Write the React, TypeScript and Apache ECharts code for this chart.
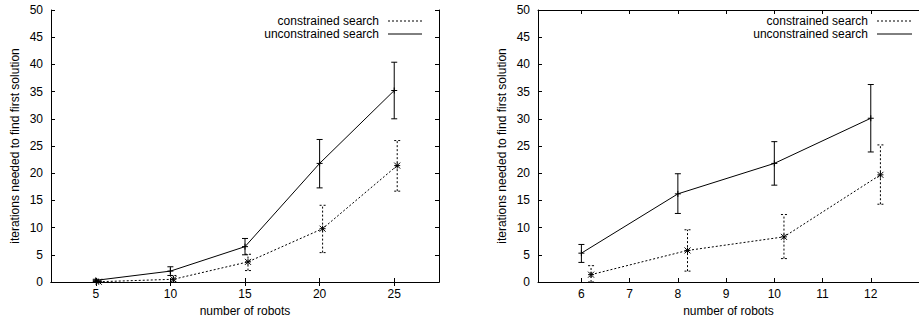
import React, { useEffect, useRef } from "react";
import * as echarts from "echarts";

// ---- data ----
const leftUncX = [5, 10, 15, 20, 25];
const leftUncMean = [0.3, 2.0, 6.5, 21.8, 35.2];
const leftUncLow = [0.1, 1.2, 5.0, 17.3, 30.0];
const leftUncHigh = [0.5, 2.8, 8.0, 26.2, 40.4];

const leftConX = [5.2, 10.2, 15.2, 20.2, 25.2];
const leftConMean = [0.05, 0.5, 3.7, 9.8, 21.4];
const leftConLow = [0, 0, 2.1, 5.4, 16.7];
const leftConHigh = [0.2, 1.2, 5.1, 14.1, 26.0];

const rightUncX = [6, 8, 10, 12];
const rightUncMean = [5.3, 16.2, 21.8, 30.1];
const rightUncLow = [3.6, 12.6, 17.8, 23.9];
const rightUncHigh = [6.9, 19.9, 25.8, 36.3];

const rightConX = [6.2, 8.2, 10.2, 12.2];
const rightConMean = [1.35, 5.8, 8.3, 19.7];
const rightConLow = [0, 2.0, 4.3, 14.3];
const rightConHigh = [3.0, 9.6, 12.4, 25.2];

const leftXTicks = [5, 10, 15, 20, 25];
const rightXTicks = [6, 7, 8, 9, 10, 11, 12];

const yTitle = "iterations needed to find first solution";
const xTitle = "number of robots";
const conName = "constrained search";
const uncName = "unconstrained search";

const FONT = "Liberation Sans, Arial, Helvetica, sans-serif";
const FS = 12;
const DASH = [2, 2];

function zip(xs: number[], ...cols: number[][]) {
  return xs.map((x, i) => [x, ...cols.map((c) => c[i])]);
}

function errRender(dashed: boolean, marker: "plus" | "star") {
  return (params: any, api: any) => {
    const x = api.value(0);
    const m = api.value(1);
    const lo = api.value(2);
    const hi = api.value(3);
    const pm = api.coord([x, m]);
    const pl = api.coord([x, lo]);
    const ph = api.coord([x, hi]);
    const style = { stroke: "#000", lineWidth: 1, lineDash: dashed ? DASH : null, fill: null };
    const mstyle = { stroke: "#000", lineWidth: 1, fill: null };
    const c = 3;
    const s = 3;
    const children: any[] = [
      { type: "line", shape: { x1: pl[0], y1: pl[1], x2: ph[0], y2: ph[1] }, style },
      { type: "line", shape: { x1: pl[0] - c, y1: pl[1], x2: pl[0] + c, y2: pl[1] }, style },
      { type: "line", shape: { x1: ph[0] - c, y1: ph[1], x2: ph[0] + c, y2: ph[1] }, style },
      { type: "line", shape: { x1: pm[0] - s, y1: pm[1], x2: pm[0] + s, y2: pm[1] }, style: mstyle },
      { type: "line", shape: { x1: pm[0], y1: pm[1] - s, x2: pm[0], y2: pm[1] + s }, style: mstyle },
    ];
    if (marker === "star") {
      children.push(
        { type: "line", shape: { x1: pm[0] - s, y1: pm[1] - s, x2: pm[0] + s, y2: pm[1] + s }, style: mstyle },
        { type: "line", shape: { x1: pm[0] - s, y1: pm[1] + s, x2: pm[0] + s, y2: pm[1] - s }, style: mstyle }
      );
    }
    return { type: "group", children };
  };
}

export default function App() {
  const ref = useRef<HTMLDivElement>(null);
  useEffect(() => {
    if (!ref.current) return;
    const chart = echarts.init(ref.current, null, { renderer: "svg" });

    const axisLine = { show: true, lineStyle: { color: "#000", width: 1 } };
    const tick = { show: true, inside: true, length: 4, lineStyle: { color: "#000" } };
    const label = { color: "#000", fontFamily: FONT, fontSize: FS };

    const xAx = (grid: number, min: number, max: number, ticks: number[]) => [
      {
        type: "value", gridIndex: grid, position: "bottom", min, max,
        axisLine, axisTick: { ...tick, customValues: ticks },
        axisLabel: { ...label, margin: 6, customValues: ticks },
        splitLine: { show: false },
        name: xTitle, nameLocation: "middle", nameGap: 23,
        nameTextStyle: { color: "#000", fontFamily: FONT, fontSize: FS },
      },
      {
        type: "value", gridIndex: grid, position: "top", min, max,
        axisLine, axisTick: { ...tick, customValues: ticks },
        axisLabel: { show: false }, splitLine: { show: false },
      },
    ];
    const yAx = (grid: number, mirror: boolean) => {
      const a: any[] = [
        {
          type: "value", gridIndex: grid, position: "left", min: 0, max: 50, interval: 5,
          axisLine, axisTick: tick, axisLabel: { ...label, margin: 8 },
          splitLine: { show: false },
          name: yTitle, nameLocation: "middle", nameGap: 30,
          nameTextStyle: { color: "#000", fontFamily: FONT, fontSize: FS },
        },
      ];
      if (mirror)
        a.push({
          type: "value", gridIndex: grid, position: "right", min: 0, max: 50, interval: 5,
          axisLine, axisTick: tick, axisLabel: { show: false }, splitLine: { show: false },
        });
      return a;
    };

    const lineSeries = (name: string, xi: number, yi: number, xs: number[], ys: number[], dashed: boolean) => ({
      type: "line", name, xAxisIndex: xi, yAxisIndex: yi, data: zip(xs, ys),
      symbol: "none", lineStyle: { color: "#000", width: 1, type: dashed ? DASH : "solid" },
      silent: true, z: 2,
    });
    const errSeries = (name: string, xi: number, yi: number, xs: number[], m: number[], lo: number[], hi: number[], dashed: boolean, mk: "plus" | "star") => ({
      type: "custom", name, xAxisIndex: xi, yAxisIndex: yi, data: zip(xs, m, lo, hi),
      encode: { x: 0, y: [1, 2, 3] }, renderItem: errRender(dashed, mk), silent: true, z: 3,
    });

    const legendGraphic = (textRight: number, lineX1: number, lineX2: number) => [
      { type: "text", x: textRight, y: 21, style: { text: conName, align: "right", verticalAlign: "middle", fill: "#000", font: `${FS}px ${FONT}` } },
      { type: "line", shape: { x1: lineX1, y1: 21, x2: lineX2, y2: 21 }, style: { stroke: "#000", lineWidth: 1, lineDash: DASH } },
      { type: "text", x: textRight, y: 34, style: { text: uncName, align: "right", verticalAlign: "middle", fill: "#000", font: `${FS}px ${FONT}` } },
      { type: "line", shape: { x1: lineX1, y1: 34, x2: lineX2, y2: 34 }, style: { stroke: "#000", lineWidth: 1 } },
    ];

    chart.setOption({
      animation: false,
      backgroundColor: "#fff",
      grid: [
        { left: 51, top: 10, width: 388, height: 272 },
        { left: 538, top: 10, width: 393, height: 272 },
      ],
      xAxis: [...xAx(0, 2, 28, leftXTicks), ...xAx(1, 5.1, 13, rightXTicks)],
      yAxis: [...yAx(0, true), ...yAx(1, false)],
      series: [
        lineSeries(conName, 0, 0, leftConX, leftConMean, true),
        lineSeries(uncName, 0, 0, leftUncX, leftUncMean, false),
        errSeries(conName, 0, 0, leftConX, leftConMean, leftConLow, leftConHigh, true, "star"),
        errSeries(uncName, 0, 0, leftUncX, leftUncMean, leftUncLow, leftUncHigh, false, "plus"),
        lineSeries(conName, 2, 2, rightConX, rightConMean, true),
        lineSeries(uncName, 2, 2, rightUncX, rightUncMean, false),
        errSeries(conName, 2, 2, rightConX, rightConMean, rightConLow, rightConHigh, true, "star"),
        errSeries(uncName, 2, 2, rightUncX, rightUncMean, rightUncLow, rightUncHigh, false, "plus"),
      ],
      graphic: [...legendGraphic(379, 388, 422), ...legendGraphic(868, 877, 912)],
    });
    return () => chart.dispose();
  }, []);
  return <div ref={ref} style={{ position: "fixed", left: 0, top: 0, width: 919, height: 325 }} />;
}
